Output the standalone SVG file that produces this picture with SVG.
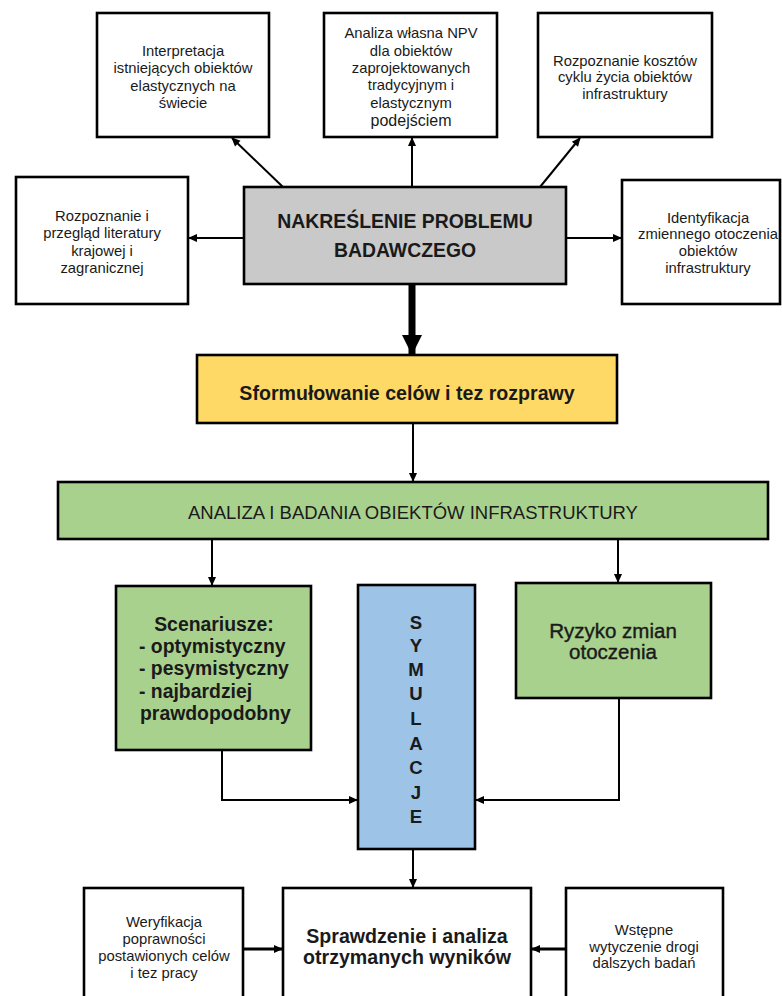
<svg xmlns="http://www.w3.org/2000/svg" width="782" height="996" viewBox="0 0 782 996">
  <defs>
    <marker id="arr" markerUnits="userSpaceOnUse" markerWidth="10" markerHeight="10" viewBox="0 0 10 10" refX="9" refY="5" orient="auto">
      <path d="M1,1 L10,5 L1,9 z" fill="#000"/>
    </marker>
    <marker id="arrBig" markerUnits="userSpaceOnUse" markerWidth="22" markerHeight="22" viewBox="0 0 22 22" refX="20" refY="11" orient="auto">
      <path d="M1,1 L21,11 L1,21 z" fill="#000"/>
    </marker>
    <style>
      .box { stroke: #000; stroke-width: 2.6; }
      .white { fill: #fff; }
      .gray { fill: #c9c9c9; }
      .yellow { fill: #ffd966; }
      .green { fill: #a9d18e; }
      .blue { fill: #9dc3e6; }
      .t { font-family: "Liberation Sans", Arial, sans-serif; fill: #1a1a1a; text-anchor: middle; }
      .small { font-size: 14.8px; }
      .mid { font-size: 19.4px; font-weight: bold; }
      .head { font-size: 19.6px; font-weight: bold; }
      .semi { stroke: #1a1a1a; stroke-width: 0.4; }
      .conn line, .conn polyline { stroke: #000; stroke-width: 2; fill: none; }
    </style>
  </defs>

  <!-- connectors -->
  <g id="connectors" class="conn">
    <line x1="283" y1="187" x2="232" y2="138" marker-end="url(#arr)"/>
    <line x1="412" y1="187" x2="412" y2="138" marker-end="url(#arr)"/>
    <line x1="540" y1="187" x2="580" y2="138" marker-end="url(#arr)"/>
    <line x1="244" y1="238" x2="189" y2="238" marker-end="url(#arr)"/>
    <line x1="566" y1="238" x2="621" y2="238" marker-end="url(#arr)"/>
    <line x1="412" y1="285" x2="412" y2="354" style="stroke-width:7" marker-end="url(#arrBig)"/>
    <line x1="413" y1="423" x2="413" y2="481" marker-end="url(#arr)"/>
    <line x1="212" y1="539" x2="212" y2="585" marker-end="url(#arr)"/>
    <line x1="618" y1="539" x2="618" y2="582" marker-end="url(#arr)"/>
    <polyline points="222,750 222,800 357,800" marker-end="url(#arr)"/>
    <polyline points="619,698 619,800 476,800" marker-end="url(#arr)"/>
    <line x1="413" y1="849" x2="413" y2="887" marker-end="url(#arr)"/>
    <line x1="243" y1="949" x2="282" y2="949" style="stroke-width:3" marker-end="url(#arr)"/>
    <line x1="566" y1="949" x2="532" y2="949" style="stroke-width:3" marker-end="url(#arr)"/>
  </g>

  <!-- top row -->
  <g id="interpretacja">
    <rect class="box white" x="97" y="13" width="172" height="124"/>
    <text class="t small" x="183"><tspan x="183" y="56">Interpretacja</tspan><tspan x="183" y="73">istniejących obiektów</tspan><tspan x="183" y="91">elastycznych na</tspan><tspan x="183" y="108">świecie</tspan></text>
  </g>
  <g id="analiza-npv">
    <rect class="box white" x="324" y="13" width="173" height="124"/>
    <text class="t small" x="411"><tspan x="411" y="38">Analiza własna NPV</tspan><tspan x="411" y="56">dla obiektów</tspan><tspan x="411" y="73">zaprojektowanych</tspan><tspan x="411" y="90">tradycyjnym i</tspan><tspan x="411" y="108">elastycznym</tspan><tspan x="411" y="126" style="font-size:16px">podejściem</tspan></text>
  </g>
  <g id="koszty">
    <rect class="box white" x="538" y="13" width="174" height="124"/>
    <text class="t small" x="625"><tspan x="625" y="66">Rozpoznanie kosztów</tspan><tspan x="625" y="82">cyklu życia obiektów</tspan><tspan x="625" y="99">infrastruktury</tspan></text>
  </g>

  <!-- side boxes -->
  <g id="literatura">
    <rect class="box white" x="16" y="177" width="172" height="127"/>
    <text class="t small" x="102"><tspan x="102" y="221">Rozpoznanie i</tspan><tspan x="102" y="238">przegląd literatury</tspan><tspan x="102" y="256">krajowej i</tspan><tspan x="102" y="273">zagranicznej</tspan></text>
  </g>
  <g id="otoczenie">
    <rect class="box white" x="622" y="180" width="158" height="124"/>
    <text class="t small" x="708"><tspan x="708" y="223">Identyfikacja</tspan><tspan x="708" y="239">zmiennego otoczenia</tspan><tspan x="708" y="256">obiektów</tspan><tspan x="708" y="273">infrastruktury</tspan></text>
  </g>

  <!-- central problem -->
  <g id="problem">
    <rect class="box gray" x="244" y="187" width="322" height="97"/>
    <text class="t" x="405" style="font-size:19.4px;font-weight:bold"><tspan x="405" y="228">NAKREŚLENIE PROBLEMU</tspan><tspan x="405" y="257">BADAWCZEGO</tspan></text>
  </g>

  <g id="cele">
    <rect class="box yellow" x="197" y="355" width="420" height="68"/>
    <text class="t head" x="407" y="400">Sformułowanie celów i tez rozprawy</text>
  </g>

  <g id="analiza-badania">
    <rect class="box green" x="58" y="482" width="710" height="57"/>
    <text class="t" x="413" y="518.5" style="font-size:18.5px">ANALIZA I BADANIA OBIEKTÓW INFRASTRUKTURY</text>
  </g>

  <g id="scenariusze">
    <rect class="box green" x="116" y="586" width="195" height="164"/>
    <text class="t mid" x="214" y="631">Scenariusze:</text>
    <text class="t mid" style="text-anchor:start"><tspan x="139" y="653">- optymistyczny</tspan><tspan x="139" y="675">- pesymistyczny</tspan><tspan x="139" y="698">- najbardziej</tspan><tspan x="140" y="720">prawdopodobny</tspan></text>
  </g>

  <g id="symulacje">
    <rect class="box blue" x="358" y="585" width="117" height="264"/>
    <text class="t" x="416" style="font-size:18.6px;font-weight:bold"><tspan x="416" y="629">S</tspan><tspan x="416" y="652">Y</tspan><tspan x="416" y="676">M</tspan><tspan x="416" y="700">U</tspan><tspan x="416" y="725">L</tspan><tspan x="416" y="750">A</tspan><tspan x="416" y="774">C</tspan><tspan x="416" y="799">J</tspan><tspan x="416" y="823">E</tspan></text>
  </g>

  <g id="ryzyko">
    <rect class="box green" x="516" y="583" width="195" height="115"/>
    <text class="t semi" x="613" style="font-size:20.5px"><tspan x="613" y="638">Ryzyko zmian</tspan><tspan x="613" y="659">otoczenia</tspan></text>
  </g>

  <!-- bottom row -->
  <g id="weryfikacja">
    <rect class="box white" x="84" y="888" width="159" height="120"/>
    <text class="t small"><tspan x="164" y="927">Weryfikacja</tspan><tspan x="164" y="944">poprawności</tspan><tspan x="164" y="961">postawionych celów</tspan><tspan x="164" y="978">i tez pracy</tspan></text>
  </g>
  <g id="sprawdzenie">
    <rect class="box white" x="283" y="888" width="248" height="120"/>
    <text class="t head"><tspan x="407" y="943">Sprawdzenie i analiza</tspan><tspan x="407" y="964">otrzymanych wyników</tspan></text>
  </g>
  <g id="dalsze-badania">
    <rect class="box white" x="566" y="888" width="157" height="120"/>
    <text class="t small"><tspan x="644" y="935">Wstępne</tspan><tspan x="644" y="952">wytyczenie drogi</tspan><tspan x="644" y="968">dalszych badań</tspan></text>
  </g>
</svg>
